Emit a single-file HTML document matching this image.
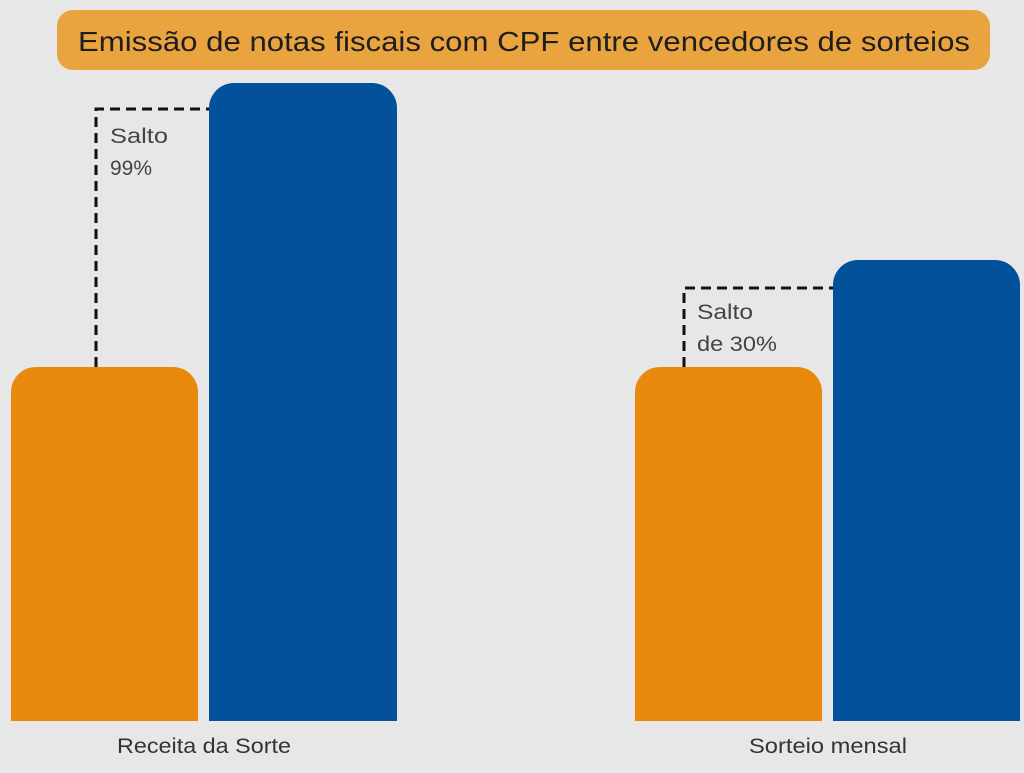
<!DOCTYPE html>
<html><head><meta charset="utf-8"><style>
body{margin:0;width:1024px;height:768px;background:#e7e7e7;overflow:hidden;font-family:"Liberation Sans",sans-serif;}
</style></head><body>
<svg width="1024" height="768" xmlns="http://www.w3.org/2000/svg">
<rect width="1024" height="768" fill="#e7e7e7"/>
<rect x="57" y="10" width="933" height="60" rx="16" fill="#e9a43f"/>
<text x="78" y="51" font-size="28" fill="#1e1e1e" textLength="892" lengthAdjust="spacingAndGlyphs" font-family="Liberation Sans, sans-serif">Emissão de notas fiscais com CPF entre vencedores de sorteios</text>
<path d="M11 721V392a25 25 0 0 1 25-25H173a25 25 0 0 1 25 25V721Z" fill="#e8890c"/>
<path d="M209 721V108a25 25 0 0 1 25-25H372a25 25 0 0 1 25 25V721Z" fill="#02519a"/>
<path d="M635 721V392a25 25 0 0 1 25-25H797a25 25 0 0 1 25 25V721Z" fill="#e8890c"/>
<path d="M833 721V285a25 25 0 0 1 25-25H995a25 25 0 0 1 25 25V721Z" fill="#02519a"/>
<path d="M96 367V109H209" fill="none" stroke="#111" stroke-width="3" stroke-dasharray="10 6"/>
<path d="M684 367V288H833" fill="none" stroke="#111" stroke-width="3" stroke-dasharray="10 6"/>
<g font-size="21" fill="#444">
<text x="110" y="143" textLength="58" lengthAdjust="spacingAndGlyphs">Salto</text>
<text x="110" y="175">99%</text>
<text x="697" y="319" textLength="56" lengthAdjust="spacingAndGlyphs">Salto</text>
<text x="697" y="351" textLength="80" lengthAdjust="spacingAndGlyphs">de 30%</text>
</g>
<g font-size="21" fill="#333">
<text x="117" y="753" textLength="174" lengthAdjust="spacingAndGlyphs">Receita da Sorte</text>
<text x="749" y="753" textLength="158" lengthAdjust="spacingAndGlyphs">Sorteio mensal</text>
</g>
</svg>
</body></html>
